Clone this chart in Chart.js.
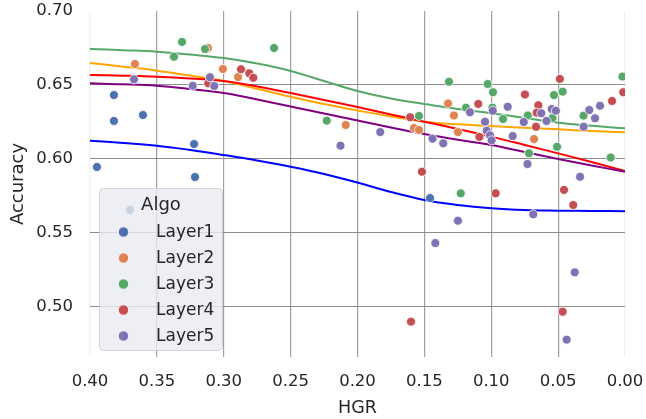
<!DOCTYPE html>
<html>
<head>
<meta charset="utf-8">
<script src="https://cdn.jsdelivr.net/npm/chart.js@4.4.1/dist/chart.umd.min.js"></script>
<style>
html,body{margin:0;padding:0;background:#fff;}
canvas{display:block;}
</style>
</head>
<body>
<canvas id="c" width="646" height="419"></canvas>
<script>
// ---------- data ----------
const seriesNames = ['Layer1', 'Layer2', 'Layer3', 'Layer4', 'Layer5'];
const legendTitle = 'Algo';
const xTicks = [0.40, 0.35, 0.30, 0.25, 0.20, 0.15, 0.10, 0.05, 0.00];
const yTicks = [0.50, 0.55, 0.60, 0.65, 0.70];

// scatter points [HGR, Accuracy]
const layer1 = [[0.3948,0.5946],[0.3821,0.6432],[0.3821,0.6257],[0.3604,0.6297],[0.3222,0.6101],
  [0.3215,0.5878],[0.1458,0.5736],[0.3701,0.5655]];
const layer2 = [[0.3664,0.6642],[0.3118,0.6750],[0.3006,0.6608],[0.2893,0.6554],[0.2088,0.6230],
  [0.1578,0.6209],[0.1540,0.6196],[0.1323,0.6375],[0.1279,0.6294],[0.1249,0.6182],[0.0680,0.6135]];
const layer3 = [[0.3312,0.6791],[0.3372,0.6691],[0.3140,0.6743],[0.2624,0.6750],[0.2230,0.6259],
  [0.1540,0.6291],[0.1316,0.6522],[0.1027,0.6507],[0.0987,0.6451],[0.1189,0.6347],[0.0992,0.6347],
  [0.0912,0.6270],[0.0727,0.6294],[0.0531,0.6432],[0.0466,0.6455],[0.0542,0.6277],[0.0508,0.6083],
  [0.0718,0.6039],[0.0310,0.6293],[0.0107,0.6010],[0.0019,0.6557],[0.1228,0.5768]];
const layer4 = [[0.2871,0.6606],[0.2809,0.6579],[0.2779,0.6549],[0.3116,0.6511],[0.1607,0.6282],
  [0.1518,0.5914],[0.1097,0.6372],[0.0748,0.6436],[0.0648,0.6363],[0.0660,0.6313],[0.0665,0.6218],
  [0.1089,0.6149],[0.0487,0.6541],[0.0097,0.6392],[0.0013,0.6451],[0.0967,0.5768],[0.0456,0.5791],
  [0.0387,0.5689],[0.0466,0.4968],[0.1600,0.4901]];
const layer5 = [[0.3671,0.6538],[0.3232,0.6495],[0.3103,0.6552],[0.3071,0.6493],[0.2127,0.6090],
  [0.1830,0.6182],[0.1439,0.6137],[0.1359,0.6106],[0.1159,0.6316],[0.1047,0.6252],[0.0989,0.6326],
  [0.1034,0.6191],[0.1009,0.6160],[0.0997,0.6126],[0.0877,0.6353],[0.0840,0.6155],[0.0757,0.6250],
  [0.0729,0.5966],[0.0626,0.6309],[0.0587,0.6257],[0.0548,0.6338],[0.0517,0.6326],[0.0309,0.6218],
  [0.0267,0.6331],[0.0224,0.6275],[0.0187,0.6360],[0.0336,0.5880],[0.0686,0.5626],[0.1249,0.5583],
  [0.1418,0.5432],[0.0376,0.5234],[0.0436,0.4779]];

// fitted curves, read at these HGR values
const curveX = [0.40,0.375,0.35,0.325,0.30,0.275,0.25,0.225,0.20,0.175,0.15,0.125,0.10,0.075,0.05,0.025,0.00];
const fit1 = [0.6124,0.6108,0.6090,0.6061,0.6027,0.5990,0.5948,0.5899,0.5841,0.5777,0.5723,0.5689,0.5667,0.5655,0.5651,0.5649,0.5647];
const fit2 = [0.6649,0.6624,0.6597,0.6564,0.6527,0.6474,0.6421,0.6372,0.6328,0.6287,0.6252,0.6234,0.6223,0.6211,0.6201,0.6189,0.6180];
const fit3 = [0.6743,0.6735,0.6725,0.6706,0.6682,0.6645,0.6595,0.6527,0.6459,0.6409,0.6372,0.6338,0.6309,0.6277,0.6245,0.6224,0.6207];
const fit4 = [0.6568,0.6563,0.6556,0.6544,0.6527,0.6490,0.6446,0.6399,0.6351,0.6301,0.6252,0.6203,0.6151,0.6095,0.6038,0.5980,0.5919];
const fit5 = [0.6511,0.6505,0.6495,0.6473,0.6446,0.6402,0.6355,0.6307,0.6260,0.6213,0.6169,0.6130,0.6095,0.6047,0.6000,0.5956,0.5914];

// ---------- styles ----------
const pointColors = ['#4c72b0', '#dd8452', '#55a868', '#c44e52', '#8172b3'];
const lineColors = ['#0000ff', '#ffa500', '#55a868', '#ff0000', '#800080'];
const textColor = '#262626';
const FONT = "'DejaVu Sans', sans-serif";

const layers = [layer1, layer2, layer3, layer4, layer5];
const fits = [fit1, fit2, fit3, fit4, fit5];

const datasets = [];
layers.forEach((pts, i) => {
  datasets.push({
    label: seriesNames[i],
    data: pts.map(p => ({x: p[0], y: p[1]})),
    backgroundColor: pointColors[i],
    borderColor: '#ffffff',
    borderWidth: 0.8,
    pointRadius: 4.5,
    order: 10 - i
  });
});
fits.forEach((f, i) => {
  datasets.push({
    label: 'fit' + (i + 1),
    data: curveX.map((x, k) => ({x: x, y: f[k]})),
    showLine: true,
    borderColor: lineColors[i],
    borderWidth: 2,
    pointRadius: 0,
    fill: false,
    tension: 0.4,
    order: 30 - i
  });
});

const legendPlugin = {
  id: 'innerLegend',
  afterDatasetsDraw(chart) {
    const ctx = chart.ctx;
    const ca = chart.chartArea;
    const x0 = ca.left + 9, y0 = 188, w = 123, h = 162;
    ctx.save();
    ctx.beginPath();
    ctx.roundRect(x0 + 0.5, y0 + 0.5, w, h, 4);
    ctx.fillStyle = 'rgba(234,234,242,0.8)';
    ctx.fill();
    ctx.strokeStyle = 'rgba(204,204,204,0.8)';
    ctx.lineWidth = 1;
    ctx.stroke();
    ctx.fillStyle = textColor;
    ctx.textBaseline = 'middle';
    ctx.textAlign = 'center';
    ctx.font = "18px " + FONT;
    ctx.fillText(legendTitle, x0 + 62, y0 + 17);
    ctx.textAlign = 'left';
    ctx.font = "17px " + FONT;
    seriesNames.forEach((name, i) => {
      const cy = y0 + 44 + i * 26;
      ctx.beginPath();
      ctx.arc(x0 + 24.5, cy, 5.2, 0, Math.PI * 2);
      ctx.fillStyle = pointColors[i];
      ctx.fill();
      ctx.strokeStyle = '#ffffff';
      ctx.lineWidth = 0.8;
      ctx.stroke();
      ctx.fillStyle = textColor;
      ctx.fillText(name, x0 + 57, cy + 1);
    });
    ctx.restore();
  }
};

const edgeGrid = (v, a, b) => (Math.abs(v - a) < 1e-9 || Math.abs(v - b) < 1e-9);

new Chart(document.getElementById('c'), {
  type: 'scatter',
  data: { datasets },
  plugins: [legendPlugin],
  options: {
    responsive: false,
    animation: false,
    devicePixelRatio: 1,
    layout: { padding: { left: 0, right: 21, top: 11, bottom: 0 } },
    plugins: { legend: { display: false }, tooltip: { enabled: false } },
    scales: {
      x: {
        type: 'linear', reverse: true, min: 0, max: 0.4,
        afterBuildTicks: s => { s.ticks = xTicks.map(v => ({ value: v })); },
        afterFit: s => { s.height = 62; },
        border: { display: false },
        grid: {
          drawTicks: true, tickLength: 15, tickColor: 'rgba(0,0,0,0)',
          color: c => edgeGrid(c.tick.value, 0, 0.4) ? 'rgba(0,0,0,0.06)' : '#a0a0a0',
          lineWidth: 1.2
        },
        ticks: {
          padding: 0, color: textColor, font: { family: FONT, size: 16.5 },
          maxRotation: 0, autoSkip: false,
          callback: v => Number(v).toFixed(2)
        },
        title: {
          display: true, text: 'HGR', color: textColor,
          font: { family: FONT, size: 17.5 }, padding: { top: 0, bottom: 0 }
        }
      },
      y: {
        type: 'linear', min: 0.4662, max: 0.70,
        afterBuildTicks: s => { s.ticks = yTicks.map(v => ({ value: v })); },
        afterFit: s => { s.width = 90; },
        border: { display: false },
        grid: {
          drawTicks: true, tickLength: 17, tickColor: 'rgba(0,0,0,0)',
          color: c => edgeGrid(c.tick.value, 0.70, 0.70) ? 'rgba(0,0,0,0)' : '#8c8c8c',
          lineWidth: 1
        },
        ticks: {
          padding: 0, color: textColor, font: { family: FONT, size: 16.5 },
          autoSkip: false,
          callback: v => Number(v).toFixed(2)
        },
        title: {
          display: true, text: 'Accuracy', color: textColor,
          font: { family: FONT, size: 18 }, padding: { top: 7.5, bottom: 0 }
        }
      }
    }
  }
});
</script>
</body>
</html>
